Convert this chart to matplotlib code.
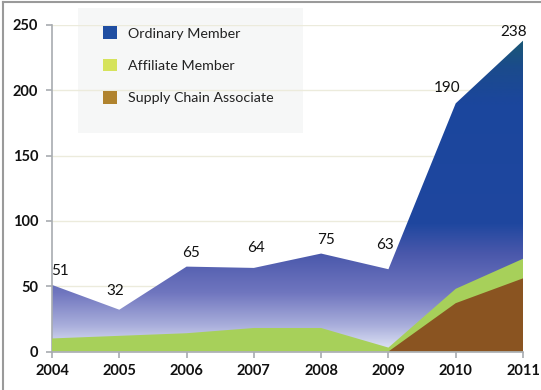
import numpy as np
import matplotlib
matplotlib.use("Agg")
import matplotlib.pyplot as plt
from matplotlib.colors import LinearSegmentedColormap, to_rgb
from matplotlib.patches import Patch, Rectangle
from matplotlib.lines import Line2D

years = [2004, 2005, 2006, 2007, 2008, 2009, 2010, 2011]
ordinary = [41, 20, 51, 46, 57, 60, 142, 167]
affiliate = [10, 12, 14, 18, 18, 3, 11, 15]
supply_chain = [0, 0, 0, 0, 0, 0, 37, 56]
series_names = ["Ordinary Member", "Affiliate Member", "Supply Chain Associate"]
y_ticks = [0, 50, 100, 150, 200, 250]

# label placement (pixels, relative to each total point)
label_offsets = [(8, 14), (-4, 19), (4, 14), (2, 20), (5, 14), (-3, 24), (-9, 15), (-9, 9)]

plt.rcParams["font.family"] = ["Lato", "DejaVu Sans"]

x = np.array(years, dtype=float)
sc = np.array(supply_chain, dtype=float)
af = sc + np.array(affiliate, dtype=float)
total = af + np.array(ordinary, dtype=float)

fig = plt.figure(figsize=(5.41, 3.90), dpi=100)
fig.patch.set_facecolor("white")
ax = fig.add_axes([52 / 541, 1 - 351.5 / 390, 471 / 541, 326.5 / 390])
ax.set_xlim(2004, 2011)
ax.set_ylim(0, 250)

# gradient fill for the total (ordinary) area
stops = [(0, "#e4e9f8"), (20, "#a9aedb"), (45, "#7076bf"), (75, "#4a58ab"),
         (98, "#1f479f"), (190, "#1b469d"), (218, "#1b4b8c"), (250, "#1a5f68")]
cmap = LinearSegmentedColormap.from_list(
    "blue_area", [(v / 250, to_rgb(c)) for v, c in stops])
grad = np.linspace(0, 1, 512).reshape(-1, 1)
poly = ax.fill_between(x, 0, total, facecolor="none", edgecolor="none", zorder=2)
img = ax.imshow(grad, cmap=cmap, origin="lower", aspect="auto",
                extent=[2004, 2011, 0, 250], zorder=2, interpolation="bilinear")
img.set_clip_path(poly.get_paths()[0], transform=ax.transData)

ax.fill_between(x, 0, af, facecolor="#a7d05a", edgecolor="none", zorder=3)
ax.fill_between(x, 0, sc, facecolor="#8a5421", edgecolor="none", zorder=4)

# total labels
for xi, ti, (dx, dy) in zip(x, total, label_offsets):
    ax.annotate(f"{int(ti)}", (xi, ti), xytext=(dx, dy), textcoords="offset pixels",
                ha="center", va="center", fontsize=11, color="#111111", zorder=6)

# axes styling
ax.set_yticks(y_ticks)
ax.set_xticks(years)
ax.grid(axis="y", color="#ecebdc", linewidth=1.0)
ax.set_axisbelow(True)
for s in ["top", "right"]:
    ax.spines[s].set_visible(False)
ax.spines["left"].set_color("#a8acb0")
ax.spines["bottom"].set_color("#a8acb0")
ax.spines["left"].set_linewidth(1.2)
ax.spines["bottom"].set_linewidth(1.2)
ax.spines["bottom"].set_zorder(5)
ax.tick_params(axis="both", colors="#a8acb0", length=4, width=1.2,
               labelcolor="#111111", labelsize=10.5)
ax.tick_params(axis="y", pad=6)
ax.tick_params(axis="x", pad=5)
for lab in ax.get_xticklabels() + ax.get_yticklabels():
    lab.set_fontweight("bold")

# legend panel
ax.add_patch(Rectangle((78 / 541, 1 - 133 / 390), 225 / 541, 125 / 390,
                       transform=fig.transFigure, facecolor="#f6f7f7",
                       edgecolor="none", zorder=0.2, clip_on=False))
handles = [Patch(facecolor="#1f4ea2", edgecolor="none"),
           Patch(facecolor="#d6e35c", edgecolor="none"),
           Patch(facecolor="#b0832e", edgecolor="none")]
leg = ax.legend(handles, series_names, loc="upper left",
                bbox_to_anchor=(92 / 541, 1 - 15 / 390), bbox_transform=fig.transFigure,
                frameon=False, fontsize=10.3, handlelength=0.95, handleheight=0.95,
                handletextpad=0.8, labelspacing=1.35, borderpad=0.3)
for t in leg.get_texts():
    t.set_color("#222222")

# figure frame on top and left
fig.add_artist(Line2D([3 / 541, 3 / 541], [0, 1 - 2 / 390], transform=fig.transFigure,
                      color="#9a9a9a", linewidth=1.5))
fig.add_artist(Line2D([3 / 541, 1], [1 - 2 / 390, 1 - 2 / 390], transform=fig.transFigure,
                      color="#9a9a9a", linewidth=1.5))

fig.savefig("out.png", dpi=100)
